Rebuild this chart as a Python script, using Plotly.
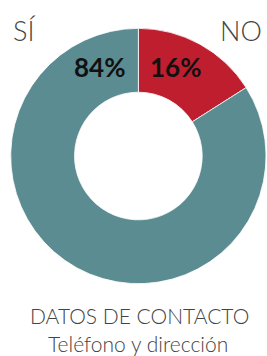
import plotly.graph_objects as go

labels = ["NO", "SÍ"]
values = [16, 84]
colors = ["#be1e2d", "#5a8c91"]
title_lines = ["DATOS DE CONTACTO", "Teléfono y dirección"]

W, H = 267, 356

fig = go.Figure()
fig.add_trace(go.Pie(
    labels=labels, values=values, sort=False, direction="clockwise", rotation=0,
    hole=0.5, textinfo="none", hoverinfo="label+percent",
    marker=dict(colors=colors, line=dict(color="white", width=0.8)),
    domain=dict(x=[0.0401, 0.9963], y=[0.2022, 0.9213]), showlegend=False,
))

light = dict(family="Lato Light, Lato", color="#444444", weight=300)
ann = []
ann.append(dict(text=labels[1], x=0.041, y=0.9157, xanchor="left", yanchor="middle",
                font=dict(size=27, **light)))
ann.append(dict(text=labels[0], x=0.989, y=0.9157, xanchor="right", yanchor="middle",
                font=dict(size=27, **light)))
ann.append(dict(text=f"{values[1]}%", x=0.4757, y=0.8132, xanchor="right", yanchor="middle",
                font=dict(family="Lato", size=26, color="#111111", weight=700)))
ann.append(dict(text=f"{values[0]}%", x=0.5543, y=0.8132, xanchor="left", yanchor="middle",
                font=dict(family="Lato", size=26, color="#111111", weight=700)))
ann.append(dict(text=title_lines[0], x=0.5206, y=0.1138, xanchor="center", yanchor="middle",
                font=dict(size=21, **light)))
ann.append(dict(text=title_lines[1], x=0.515, y=0.035, xanchor="center", yanchor="middle",
                font=dict(size=21, **light)))
for a in ann:
    a.update(xref="paper", yref="paper", showarrow=False)

fig.update_layout(width=W, height=H, margin=dict(l=0, r=0, t=0, b=0),
                  paper_bgcolor="white", plot_bgcolor="white", annotations=ann)
fig.write_html("out.html", config={"displayModeBar": False},
               post_script="document.body.style.margin='0';document.body.style.overflow='hidden';")
